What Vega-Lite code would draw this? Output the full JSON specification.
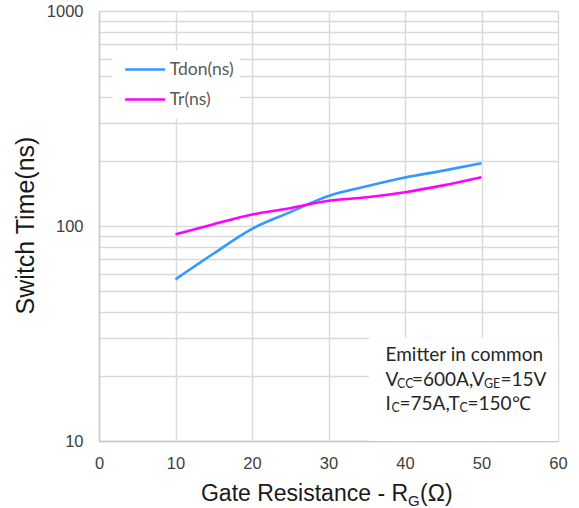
{
  "$schema": "https://vega.github.io/schema/vega-lite/v6.json",
  "width": 459,
  "height": 430,
  "autosize": {"type": "none"},
  "padding": {"left": 99, "top": 11, "right": 21, "bottom": 67},
  "background": "white",
  "data": {"values": [{}]},
  "config": {
    "view": {"stroke": null},
    "axis": {
      "grid": true,
      "gridColor": "#d9d9d9",
      "gridWidth": 1.4,
      "domainColor": "#c8c8c8",
      "domainWidth": 1.4,
      "ticks": false,
      "labelFont": "Liberation Sans",
      "labelFontSize": 16.5,
      "labelColor": "#404040",
      "titleFont": "Liberation Sans",
      "titleColor": "#1a1a1a",
      "titleFontWeight": "normal"
    }
  },
  "layer": [
    {
      "mark": {"type": "rect", "color": "white"},
      "encoding": {
        "x": {"datum": 1.76, "type": "quantitative", "title": null, "scale": {"domain": [0, 60]}},
        "x2": {"datum": 18.4},
        "y": {"datum": 655, "type": "quantitative", "title": null, "scale": {"type": "log", "domain": [10, 1000]}},
        "y2": {"datum": 316}
      }
    },
    {
      "mark": {"type": "rect", "color": "white"},
      "encoding": {
        "x": {"datum": 35.27, "type": "quantitative", "title": null, "scale": {"domain": [0, 60]}},
        "x2": {"datum": 60},
        "y": {"datum": 10, "type": "quantitative", "title": null, "scale": {"type": "log", "domain": [10, 1000]}},
        "y2": {"datum": 30.3}
      }
    },
    {
      "data": {
        "values": [
          {"rg": 10, "t": 56.5, "series": "Tdon(ns)"},
          {"rg": 15, "t": 74.5, "series": "Tdon(ns)"},
          {"rg": 20, "t": 97, "series": "Tdon(ns)"},
          {"rg": 25, "t": 116, "series": "Tdon(ns)"},
          {"rg": 30, "t": 138, "series": "Tdon(ns)"},
          {"rg": 35, "t": 153, "series": "Tdon(ns)"},
          {"rg": 40, "t": 168, "series": "Tdon(ns)"},
          {"rg": 45, "t": 181, "series": "Tdon(ns)"},
          {"rg": 50, "t": 196, "series": "Tdon(ns)"},
          {"rg": 10, "t": 91.5, "series": "Tr(ns)"},
          {"rg": 15, "t": 102, "series": "Tr(ns)"},
          {"rg": 20, "t": 113, "series": "Tr(ns)"},
          {"rg": 25, "t": 121, "series": "Tr(ns)"},
          {"rg": 30, "t": 131, "series": "Tr(ns)"},
          {"rg": 35, "t": 136, "series": "Tr(ns)"},
          {"rg": 40, "t": 143.6, "series": "Tr(ns)"},
          {"rg": 45, "t": 154.5, "series": "Tr(ns)"},
          {"rg": 50, "t": 168.6, "series": "Tr(ns)"}
        ]
      },
      "mark": {"type": "line", "strokeWidth": 2.6, "interpolate": "monotone"},
      "encoding": {
        "x": {
          "field": "rg", "type": "quantitative",
          "scale": {"domain": [0, 60]},
          "axis": {"values": [0, 10, 20, 30, 40, 50, 60], "grid": true, "title": null, "labelPadding": 14, "labelFlush": false}
        },
        "y": {
          "field": "t", "type": "quantitative",
          "scale": {"type": "log", "domain": [10, 1000]},
          "axis": {
            "values": [10, 20, 30, 40, 50, 60, 70, 80, 90, 100, 200, 300, 400, 500, 600, 700, 800, 900, 1000],
            "grid": true,
            "labelExpr": "(datum.value == 10 || datum.value == 100 || datum.value == 1000) ? format(datum.value, 'd') : ''",
            "labelPadding": 16,
            "labelFlush": false,
            "labelOverlap": false,
            "title": "Switch Time(ns)",
            "titleFontSize": 25,
            "titleX": -66,
            "titleY": 214,
            "titleAngle": -90,
            "titleAlign": "center",
            "titleBaseline": "alphabetic"
          }
        },
        "color": {
          "field": "series", "type": "nominal",
          "scale": {"domain": ["Tdon(ns)", "Tr(ns)"], "range": ["#3399ff", "#ff00ff"]},
          "legend": {
            "title": null,
            "orient": "none",
            "legendX": 24.7,
            "legendY": 37,
            "padding": 0,
            "symbolType": "stroke",
            "symbolSize": 1600,
            "symbolStrokeWidth": 2.6,
            "labelFont": "Lato",
            "labelFontSize": 17.5,
            "labelColor": "#595959",
            "labelOffset": 3,
            "rowPadding": -11
          }
        }
      }
    },
    {
      "mark": {"type": "text", "text": "Emitter in common", "align": "left", "baseline": "alphabetic", "font": "Lato", "fontSize": 19, "color": "#262626"},
      "encoding": {
        "x": {"datum": 37.45, "type": "quantitative", "title": null, "scale": {"domain": [0, 60]}},
        "y": {"datum": 23.5, "type": "quantitative", "title": null, "scale": {"type": "log", "domain": [10, 1000]}}
      }
    },
    {
      "mark": {"type": "text", "text": "V", "align": "left", "baseline": "alphabetic", "font": "Lato", "fontSize": 19, "color": "#262626"},
      "encoding": {
        "x": {"datum": 37.45, "type": "quantitative", "title": null, "scale": {"domain": [0, 60]}},
        "y": {"datum": 18.0, "type": "quantitative", "title": null, "scale": {"type": "log", "domain": [10, 1000]}}
      }
    },
    {
      "mark": {"type": "text", "text": "CC", "align": "left", "baseline": "alphabetic", "font": "Lato", "fontSize": 12.5, "color": "#262626", "dx": 11.5, "dy": 2},
      "encoding": {
        "x": {"datum": 37.45, "type": "quantitative", "title": null, "scale": {"domain": [0, 60]}},
        "y": {"datum": 18.0, "type": "quantitative", "title": null, "scale": {"type": "log", "domain": [10, 1000]}}
      }
    },
    {
      "mark": {"type": "text", "text": "=600A,V", "align": "left", "baseline": "alphabetic", "font": "Lato", "fontSize": 19, "color": "#262626", "dx": 26.5},
      "encoding": {
        "x": {"datum": 37.45, "type": "quantitative", "title": null, "scale": {"domain": [0, 60]}},
        "y": {"datum": 18.0, "type": "quantitative", "title": null, "scale": {"type": "log", "domain": [10, 1000]}}
      }
    },
    {
      "mark": {"type": "text", "text": "GE", "align": "left", "baseline": "alphabetic", "font": "Lato", "fontSize": 12.5, "color": "#262626", "dx": 98.5, "dy": 2},
      "encoding": {
        "x": {"datum": 37.45, "type": "quantitative", "title": null, "scale": {"domain": [0, 60]}},
        "y": {"datum": 18.0, "type": "quantitative", "title": null, "scale": {"type": "log", "domain": [10, 1000]}}
      }
    },
    {
      "mark": {"type": "text", "text": "=15V", "align": "left", "baseline": "alphabetic", "font": "Lato", "fontSize": 19, "color": "#262626", "dx": 115},
      "encoding": {
        "x": {"datum": 37.45, "type": "quantitative", "title": null, "scale": {"domain": [0, 60]}},
        "y": {"datum": 18.0, "type": "quantitative", "title": null, "scale": {"type": "log", "domain": [10, 1000]}}
      }
    },
    {
      "mark": {"type": "text", "text": "I", "align": "left", "baseline": "alphabetic", "font": "Lato", "fontSize": 19, "color": "#262626"},
      "encoding": {
        "x": {"datum": 37.45, "type": "quantitative", "title": null, "scale": {"domain": [0, 60]}},
        "y": {"datum": 13.9, "type": "quantitative", "title": null, "scale": {"type": "log", "domain": [10, 1000]}}
      }
    },
    {
      "mark": {"type": "text", "text": "C", "align": "left", "baseline": "alphabetic", "font": "Lato", "fontSize": 12.5, "color": "#262626", "dx": 6, "dy": 2},
      "encoding": {
        "x": {"datum": 37.45, "type": "quantitative", "title": null, "scale": {"domain": [0, 60]}},
        "y": {"datum": 13.9, "type": "quantitative", "title": null, "scale": {"type": "log", "domain": [10, 1000]}}
      }
    },
    {
      "mark": {"type": "text", "text": "=75A,T", "align": "left", "baseline": "alphabetic", "font": "Lato", "fontSize": 19, "color": "#262626", "dx": 14},
      "encoding": {
        "x": {"datum": 37.45, "type": "quantitative", "title": null, "scale": {"domain": [0, 60]}},
        "y": {"datum": 13.9, "type": "quantitative", "title": null, "scale": {"type": "log", "domain": [10, 1000]}}
      }
    },
    {
      "mark": {"type": "text", "text": "C", "align": "left", "baseline": "alphabetic", "font": "Lato", "fontSize": 12.5, "color": "#262626", "dx": 74, "dy": 2},
      "encoding": {
        "x": {"datum": 37.45, "type": "quantitative", "title": null, "scale": {"domain": [0, 60]}},
        "y": {"datum": 13.9, "type": "quantitative", "title": null, "scale": {"type": "log", "domain": [10, 1000]}}
      }
    },
    {
      "mark": {"type": "text", "text": "=150℃", "align": "left", "baseline": "alphabetic", "font": "Lato", "fontSize": 19, "color": "#262626", "dx": 82},
      "encoding": {
        "x": {"datum": 37.45, "type": "quantitative", "title": null, "scale": {"domain": [0, 60]}},
        "y": {"datum": 13.9, "type": "quantitative", "title": null, "scale": {"type": "log", "domain": [10, 1000]}}
      }
    },
    {
      "mark": {"type": "text", "text": "Gate Resistance - R", "align": "right", "baseline": "alphabetic", "font": "Liberation Sans", "fontSize": 23, "color": "#1a1a1a"},
      "encoding": {
        "x": {"datum": 40.4, "type": "quantitative", "title": null, "scale": {"domain": [0, 60]}},
        "y": {"datum": 5.25, "type": "quantitative", "title": null, "scale": {"type": "log", "domain": [10, 1000]}}
      }
    },
    {
      "mark": {"type": "text", "text": "G", "align": "left", "baseline": "alphabetic", "font": "Liberation Sans", "fontSize": 15, "color": "#1a1a1a", "dy": 5},
      "encoding": {
        "x": {"datum": 40.4, "type": "quantitative", "title": null, "scale": {"domain": [0, 60]}},
        "y": {"datum": 5.25, "type": "quantitative", "title": null, "scale": {"type": "log", "domain": [10, 1000]}}
      }
    },
    {
      "mark": {"type": "text", "text": "(Ω)", "align": "left", "baseline": "alphabetic", "font": "Liberation Sans", "fontSize": 23, "color": "#1a1a1a", "dx": 12},
      "encoding": {
        "x": {"datum": 40.4, "type": "quantitative", "title": null, "scale": {"domain": [0, 60]}},
        "y": {"datum": 5.25, "type": "quantitative", "title": null, "scale": {"type": "log", "domain": [10, 1000]}}
      }
    }
  ]
}
